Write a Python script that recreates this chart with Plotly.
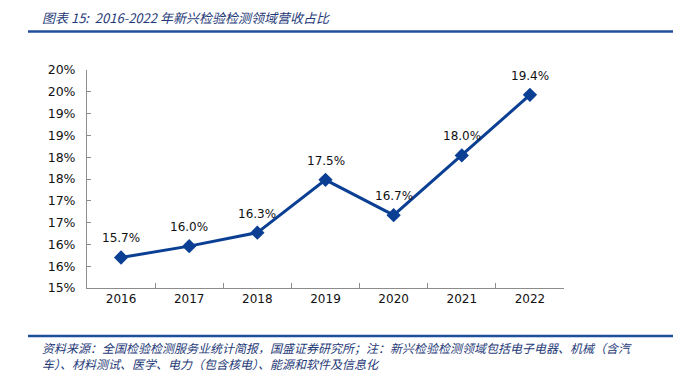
import plotly.graph_objects as go

years = ["2016", "2017", "2018", "2019", "2020", "2021", "2022"]
share = [15.70, 15.96, 16.27, 17.48, 16.67, 18.04, 19.43]
ytick_vals = [15, 15.5, 16, 16.5, 17, 17.5, 18, 18.5, 19, 19.5, 20]
ytick_text = ["15%", "16%", "16%", "17%", "17%", "18%", "18%", "19%", "19%", "20%", "20%"]
title_text = "图表 15:  2016-2022 年新兴检验检测领域营收占比"
source_text = ("资料来源：全国检验检测服务业统计简报，国盛证券研究所；注：新兴检验检测领域包括电子电器、机械（含汽"
               "<br>车）、材料测试、医学、电力（包含核电）、能源和软件及信息化")

W, H = 687, 371
L, R, T, B = 87, 123, 70, 83
pw, ph = W - L - R, H - T - B

def px(x):
    return (x - L) / pw

def py(y):
    return (H - B - y) / ph

LINE = "#0a3f94"
AX = "#8c8c8c"
TXT_BLUE = "#1f3a78"

fig = go.Figure()
fig.add_trace(go.Scatter(
    x=years, y=share, mode="lines+markers",
    line=dict(color=LINE, width=3),
    marker=dict(symbol="diamond", size=11, color=LINE),
    hoverinfo="skip", showlegend=False,
))

for i, v in enumerate(share):
    fig.add_annotation(x=i, y=v, text=f"{v:.1f}%", showarrow=False,
                       yshift=19, font=dict(family="DejaVu Sans", size=12, color="#111111"))

fig.add_annotation(xref="paper", yref="paper", x=px(40), y=py(17), xanchor="left", yanchor="middle",
                   text=title_text, showarrow=False,
                   font=dict(family="Noto Sans CJK SC", size=13, color=TXT_BLUE, style="italic"))
fig.add_annotation(xref="paper", yref="paper", x=px(40), y=py(355), xanchor="left", yanchor="middle",
                   text=source_text, showarrow=False, align="left",
                   font=dict(family="Noto Sans CJK SC", size=12, color=TXT_BLUE, style="italic"))

fig.add_shape(type="line", xref="paper", yref="paper", x0=px(28), x1=px(673), y0=py(31.5), y1=py(31.5),
              line=dict(color="#1f4e9c", width=2.5))
fig.add_shape(type="line", xref="paper", yref="paper", x0=px(28), x1=px(673), y0=py(336), y1=py(336),
              line=dict(color="#1f4e9c", width=2.5))

fig.update_xaxes(
    type="category", range=[-0.5, len(years) - 0.5], showline=True, linecolor=AX, linewidth=1,
    ticks="inside", tickson="boundaries", ticklen=5, tickcolor=AX,
    showgrid=False, zeroline=False,
    tickfont=dict(family="DejaVu Sans", size=12, color="#111111"),
)
fig.update_yaxes(
    range=[15, 20], tickvals=ytick_vals, ticktext=ytick_text,
    showline=True, linecolor=AX, linewidth=1,
    ticks="inside", ticklen=4, tickcolor=AX,
    showgrid=False, zeroline=False, ticklabelstandoff=8,
    tickfont=dict(family="DejaVu Sans", size=12.5, color="#111111"),
)
fig.update_layout(
    width=W, height=H, margin=dict(l=L, r=R, t=T, b=B),
    plot_bgcolor="white", paper_bgcolor="white",
)
fig.write_html("out.html", config={"displayModeBar": False},
               post_script="document.body.style.margin='0';")
